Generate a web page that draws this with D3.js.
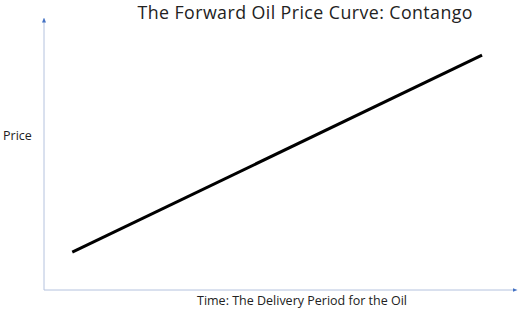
<!DOCTYPE html>
<html>
<head>
  <meta charset="utf-8">
  <title>The Forward Oil Price Curve: Contango</title>
  <script src="https://d3js.org/d3.v7.min.js"></script>
  <style>
    body { margin: 0; background: #fff; }
    svg text { font-family: "Open Sans", "Noto Sans", sans-serif; fill: #222; }
  </style>
</head>
<body>
  <div id="chart"></div>
  <script>
    "use strict"

    // dados: a curva (tempo de entrega x preço), duas pontas de uma reta
    var tempos = [6, 93];
    var precos = [14, 87];
    var titulo = "The Forward Oil Price Curve: Contango";
    var rotuloX = "Time: The Delivery Period for the Oil";
    var rotuloY = "Price";

    var largura = 520, altura = 312;
    var margin = {top: 20, right: 5, bottom: 22, left: 44};

    var svg = d3.select('#chart').append('svg')
      .attr('width', largura)
      .attr('height', altura);

    var x = d3.scaleLinear().domain([0, 100]).range([margin.left, largura - margin.right]);
    var y = d3.scaleLinear().domain([0, 100]).range([altura - margin.bottom, margin.top]);

    // pontinha das setas
    svg.append('defs').append('marker')
      .attr('id', 'seta')
      .attr('viewBox', '0 0 10 10')
      .attr('refX', 5).attr('refY', 5)
      .attr('markerWidth', 5).attr('markerHeight', 5)
      .attr('orient', 'auto')
      .append('path')
        .attr('d', 'M0,1 L10,5 L0,9 Z')
        .attr('fill', '#4472c4');

    // eixos (só as linhas, sem ticks)
    svg.append('line')
      .attr('x1', x(0)).attr('y1', y(0))
      .attr('x2', x(0)).attr('y2', y(100))
      .attr('stroke', '#b4c2de').attr('stroke-width', 1)
      .attr('marker-end', 'url(#seta)');

    svg.append('line')
      .attr('x1', x(0)).attr('y1', y(0))
      .attr('x2', x(100)).attr('y2', y(0))
      .attr('stroke', '#b4c2de').attr('stroke-width', 1)
      .attr('marker-end', 'url(#seta)');

    // a curva
    var dados = tempos.map((t, i) => ({t: t, p: precos[i]}));
    var linha = d3.line().x(d => x(d.t)).y(d => y(d.p));
    svg.append('path')
      .datum(dados)
      .attr('d', linha)
      .attr('fill', 'none')
      .attr('stroke', '#000')
      .attr('stroke-width', 3);

    // textos
    svg.append('text')
      .attr('x', 305).attr('y', 19)
      .attr('text-anchor', 'middle')
      .attr('font-size', 17.8)
      .attr('textLength', 335)
      .attr('lengthAdjust', 'spacing')
      .text(titulo);

    svg.append('text')
      .attr('x', 302).attr('y', 305)
      .attr('text-anchor', 'middle')
      .attr('font-size', 12.5)
      .text(rotuloX);

    svg.append('text')
      .attr('x', 3).attr('y', 140)
      .attr('font-size', 12.5)
      .text(rotuloY);
  </script>
</body>
</html>
